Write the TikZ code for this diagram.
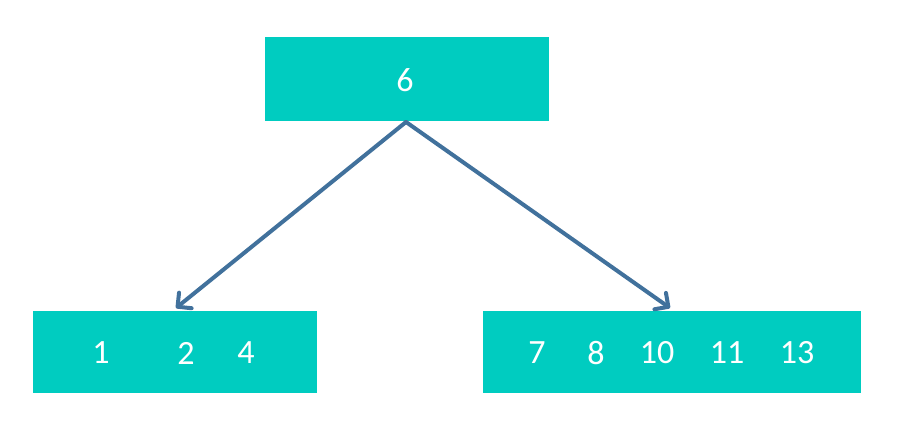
\documentclass[tikz,border=0pt]{standalone}
\usepackage{fontspec}
\setmainfont{Carlito}
\usetikzlibrary{arrows.meta}
\definecolor{boxfill}{HTML}{00CCC0}
\definecolor{arrowc}{HTML}{41719C}
\begin{document}
\begin{tikzpicture}[x=1pt,y=-1pt,
  box/.style={fill=boxfill,draw=none,anchor=north west,inner sep=0pt},
  num/.style={text=white,font=\fontsize{34}{40}\selectfont,inner sep=0pt,anchor=center},
  conn/.style={draw=arrowc,line width=4pt,line cap=round,line join=round,
    -{Straight Barb[length=10pt,width=20pt,line width=4pt,round]}}]
\useasboundingbox (0,0) rectangle (904,427);
\node[box,minimum width=284pt,minimum height=84pt] (top) at (265,37) {};
\node[box,minimum width=284pt,minimum height=82pt] (left) at (33,311) {};
\node[box,minimum width=378pt,minimum height=82pt] (right) at (483,311) {};
\node[num] (t6) at (405,80) {6};
\node[num] (l1) at (101,353) {1};
\node[num] (l2) at (186,353) {2};
\node[num] (l4) at (246,353) {4};
\node[num] (r7) at (537,353) {7};
\node[num] (r8) at (596,353) {8};
\node[num] (r10) at (657,353) {10};
\node[num] (r11) at (727,353) {11};
\node[num] (r13) at (797,353) {13};
\coordinate (src) at (406,122);
\coordinate (dl) at (176,308);
\coordinate (dr) at (670,308);
\draw[conn] (src) -- (dl);
\draw[conn] (src) -- (dr);
\end{tikzpicture}
\end{document}
